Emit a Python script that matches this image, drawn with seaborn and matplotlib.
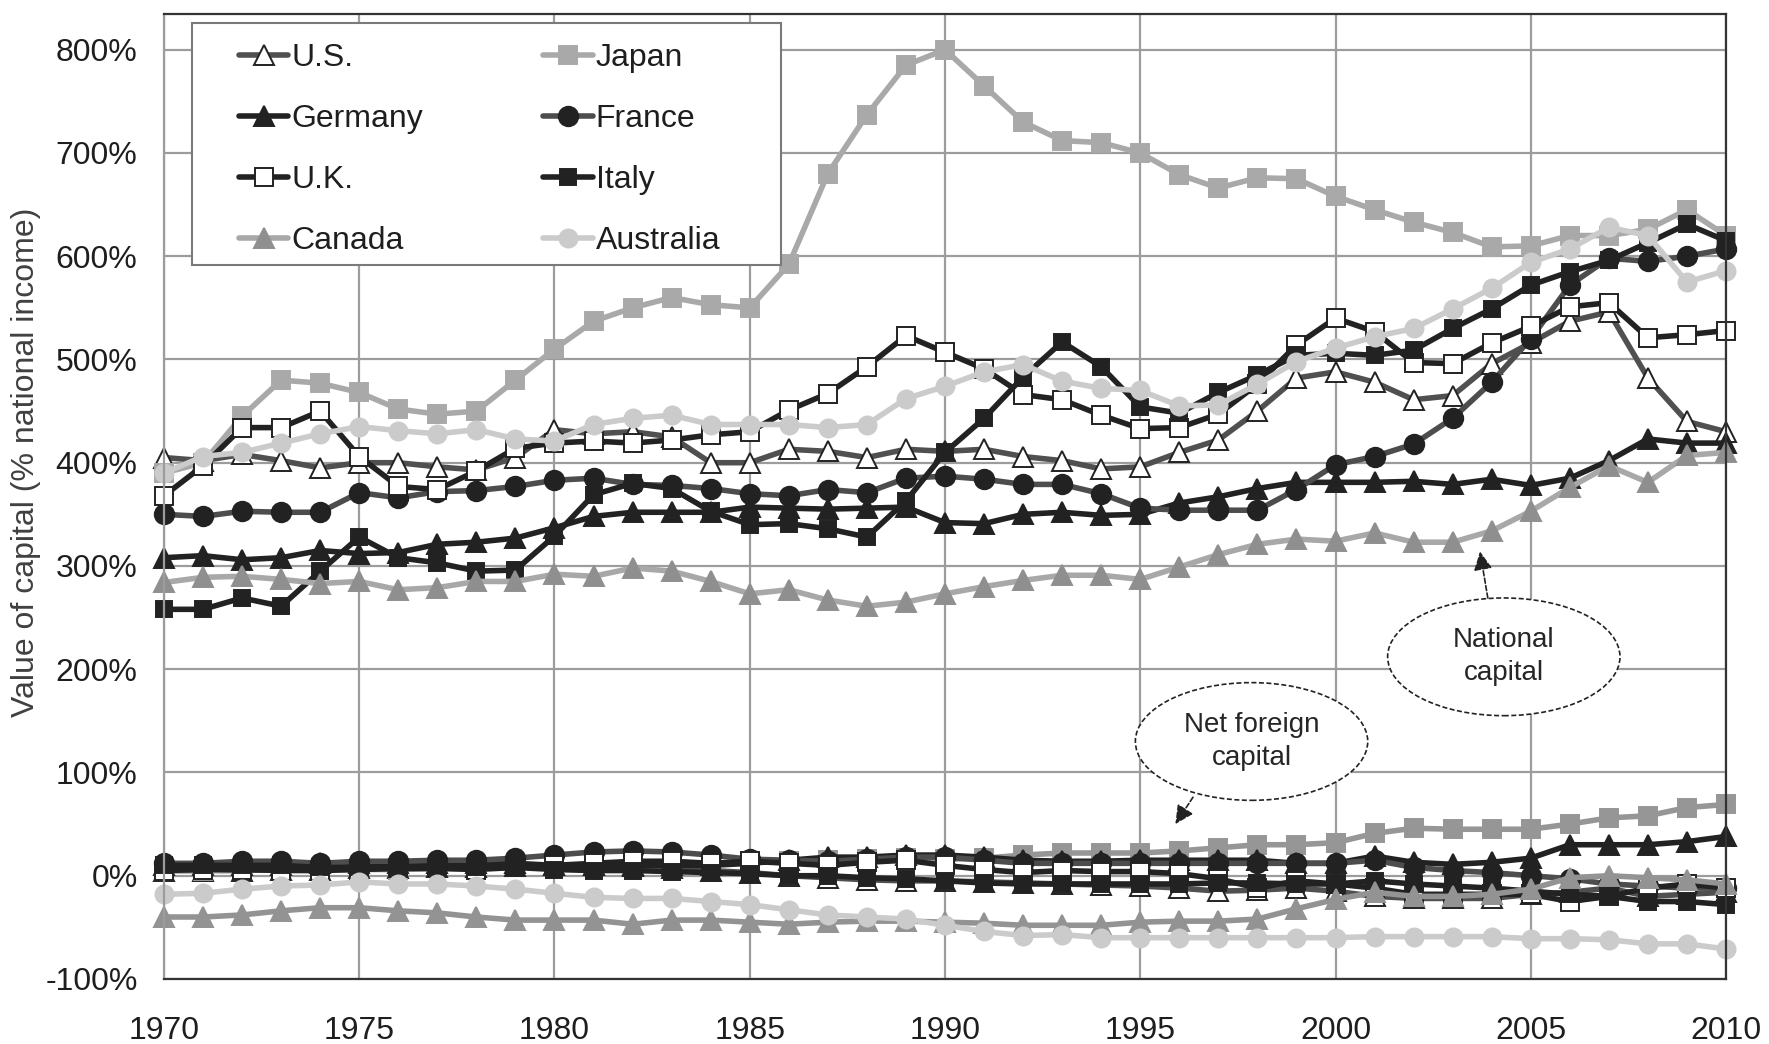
import matplotlib
matplotlib.use("Agg")
import matplotlib.pyplot as plt
import seaborn as sns
import pandas as pd
from matplotlib.patches import Ellipse, Rectangle

# ---------------- data ----------------
years = list(range(1970, 2011))
countries = ["U.S.", "Japan", "Germany", "France", "U.K.", "Italy", "Canada", "Australia"]

us_national = [405, 402, 408, 402, 395, 400, 400, 396, 393, 405, 432, 428, 430, 425, 400, 400, 413, 411, 405, 413,
               411, 413, 406, 402, 394, 396, 410, 422, 450, 482, 488, 478, 461, 465, 496, 516, 537, 546, 482, 440, 430]
japan_national = [390, 400, 445, 480, 477, 468, 452, 447, 450, 480, 510, 537, 550, 560, 553, 550, 592, 680, 737, 785,
                  800, 765, 730, 712, 710, 700, 679, 666, 676, 675, 658, 645, 633, 623, 609, 610, 620, 620, 626, 645, 620]
germany_national = [308, 310, 306, 308, 315, 312, 313, 321, 323, 327, 337, 348, 352, 352, 352, 357, 356, 355, 356, 357,
                    342, 341, 350, 352, 349, 350, 361, 367, 375, 381, 381, 381, 382, 379, 384, 378, 385, 402, 423, 419, 419]
france_national = [350, 348, 353, 352, 352, 371, 366, 372, 373, 377, 383, 385, 379, 378, 375, 370, 368, 374, 371, 385,
                   387, 384, 379, 379, 370, 356, 354, 354, 354, 374, 398, 406, 418, 443, 478, 520, 572, 598, 595, 600, 607]
uk_national = [368, 397, 434, 434, 450, 406, 377, 374, 392, 414, 419, 421, 419, 422, 427, 430, 451, 467, 493, 523,
               507, 491, 466, 461, 446, 433, 434, 447, 476, 514, 540, 527, 497, 496, 516, 532, 551, 555, 521, 524, 528]
italy_national = [258, 258, 269, 261, 295, 328, 308, 303, 295, 296, 329, 369, 380, 375, 353, 340, 341, 336, 328, 363,
                  410, 443, 483, 517, 493, 454, 448, 468, 485, 504, 506, 504, 509, 530, 549, 572, 585, 596, 613, 631, 615]
canada_national = [284, 289, 290, 287, 283, 285, 277, 279, 285, 285, 292, 290, 298, 295, 285, 273, 277, 267, 261, 265,
                   273, 280, 286, 291, 291, 287, 299, 311, 321, 326, 324, 332, 323, 323, 334, 353, 376, 397, 381, 407, 410]
australia_national = [390, 406, 410, 419, 428, 435, 431, 428, 432, 423, 421, 437, 443, 446, 437, 437, 437, 434, 437, 462,
                      474, 488, 495, 479, 472, 470, 455, 456, 476, 498, 511, 522, 530, 549, 569, 594, 607, 628, 620, 575, 586]

us_foreign = [5, 5, 5, 6, 6, 7, 7, 8, 8, 9, 10, 10, 9, 7, 5, 3, 0, -2, -4, -5,
              -5, -6, -7, -8, -9, -10, -12, -15, -14, -12, -15, -20, -22, -22, -22, -18, -16, -12, -20, -18, -16]
japan_foreign = [5, 5, 6, 6, 6, 6, 6, 7, 8, 8, 8, 8, 9, 10, 12, 13, 14, 15, 16, 17,
                 16, 17, 20, 22, 22, 22, 24, 27, 30, 30, 32, 41, 46, 45, 45, 45, 50, 56, 58, 66, 69]
germany_foreign = [10, 10, 10, 10, 12, 12, 12, 12, 12, 12, 10, 10, 10, 10, 10, 12, 15, 18, 18, 20,
                   20, 18, 15, 14, 14, 15, 15, 15, 15, 12, 12, 19, 13, 11, 13, 17, 30, 30, 30, 33, 38]
france_foreign = [12, 12, 14, 14, 12, 14, 14, 15, 15, 17, 20, 23, 24, 23, 20, 16, 15, 14, 16, 18,
                  18, 15, 12, 12, 12, 12, 12, 12, 12, 12, 12, 15, 8, 5, 3, 0, -3, -8, -10, -12, -12]
uk_foreign = [5, 6, 6, 5, 5, 6, 7, 7, 6, 8, 10, 12, 14, 14, 12, 14, 12, 10, 13, 15,
              10, 6, 3, 5, 4, 4, 2, -3, -12, -5, -8, -12, -18, -18, -18, -18, -25, -20, -12, -8, -12]
italy_foreign = [10, 10, 10, 10, 8, 8, 8, 8, 8, 8, 6, 5, 5, 4, 3, 2, 0, 0, -2, -3,
                 -5, -7, -8, -8, -8, -8, -8, -7, -7, -8, -8, -5, -8, -10, -12, -15, -18, -20, -25, -25, -28]
canada_foreign = [-40, -40, -38, -34, -31, -31, -34, -36, -40, -43, -43, -43, -47, -43, -43, -45, -47, -45, -44, -44,
                  -45, -46, -48, -48, -48, -45, -44, -44, -42, -32, -23, -16, -20, -20, -18, -13, -2, 0, -2, -4, -8]
australia_foreign = [-18, -17, -13, -10, -9, -6, -8, -8, -10, -13, -17, -21, -22, -22, -25, -28, -33, -38, -40, -42,
                     -48, -54, -58, -57, -60, -60, -60, -60, -60, -60, -60, -59, -59, -59, -59, -61, -61, -62, -66, -66, -71]

national = [us_national, japan_national, germany_national, france_national,
            uk_national, italy_national, canada_national, australia_national]
foreign = [us_foreign, japan_foreign, germany_foreign, france_foreign,
           uk_foreign, italy_foreign, canada_foreign, australia_foreign]

x_ticks = [1970, 1975, 1980, 1985, 1990, 1995, 2000, 2005, 2010]
y_ticks = [-100, 0, 100, 200, 300, 400, 500, 600, 700, 800]
y_tick_labels = ["-100%", "0%", "100%", "200%", "300%", "400%", "500%", "600%", "700%", "800%"]
y_label = "Value of capital (% national income)"
note_national = "National\ncapital"
note_foreign = "Net foreign\ncapital"

rows = []
for c, nat, fo in zip(countries, national, foreign):
    for y, v in zip(years, nat):
        rows.append((c, "national", y, v))
    for y, v in zip(years, fo):
        rows.append((c, "foreign", y, v))
df = pd.DataFrame(rows, columns=["country", "kind", "year", "value"])

# ---------------- styles ----------------
DK = "#222222"
styles = {
    "U.S.":      dict(color="#505050", marker="^", mfc="white", mec=DK, ms=14),
    "Japan":     dict(color="#a9a9a9", marker="s", mfc="#a9a9a9", mec="#a9a9a9", ms=13),
    "Germany":   dict(color=DK, marker="^", mfc=DK, mec=DK, ms=14),
    "France":    dict(color="#4d4d4d", marker="o", mfc=DK, mec=DK, ms=14),
    "U.K.":      dict(color=DK, marker="s", mfc="white", mec=DK, ms=13),
    "Italy":     dict(color=DK, marker="s", mfc=DK, mec=DK, ms=12),
    "Canada":    dict(color="#a8a8a8", marker="^", mfc="#8f8f8f", mec="#8f8f8f", ms=14),
    "Australia": dict(color="#cbcbcb", marker="o", mfc="#cbcbcb", mec="#cbcbcb", ms=13),
}
foreign_color_override = {"Japan": "#969696", "Canada": "#939393"}

sns.set_style("white")
plt.rcParams["font.family"] = ["Liberation Sans", "DejaVu Sans"]

fig = plt.figure(figsize=(17.69, 10.44), dpi=100)
ax = fig.add_axes([0.0927, 0.0623, 0.883, 0.9247])

handles = {}
for kind in ["national", "foreign"]:
    for c in countries:
        st = dict(styles[c])
        if kind == "foreign" and c in foreign_color_override:
            col = foreign_color_override[c]
            st["color"] = col
            if st["mfc"] != "white":
                st["mfc"] = col
                st["mec"] = col
        sub = df[(df.country == c) & (df.kind == kind)]
        sns.lineplot(data=sub, x="year", y="value", ax=ax, errorbar=None, legend=False,
                     color=st["color"], linewidth=4.0, marker=st["marker"],
                     markersize=st["ms"], markerfacecolor=st["mfc"],
                     markeredgecolor=st["mec"], markeredgewidth=1.4, clip_on=False,
                     label=c if kind == "national" else "_nolegend_")
        if kind == "national":
            handles[c] = ax.lines[-1]

ax.set_xlim(1970, 2010)
ax.set_ylim(-100, 835)
ax.set_xticks(x_ticks)
ax.set_xticklabels([str(x) for x in x_ticks])
ax.set_yticks(y_ticks)
ax.set_yticklabels(y_tick_labels)
ax.tick_params(axis="x", length=0, pad=27, labelsize=23, labelcolor="#1e1e1e")
ax.tick_params(axis="y", length=0, pad=19, labelsize=23, labelcolor="#1e1e1e")
ax.grid(True, color="#9c9c9c", linewidth=1.6)
ax.set_axisbelow(True)
for s in ["top", "right", "bottom"]:
    ax.spines[s].set_color("#333333")
    ax.spines[s].set_linewidth(1.6)
ax.spines["left"].set_color("#9c9c9c")
ax.spines["left"].set_linewidth(1.6)
ax.set_xlabel("")
ax.set_ylabel(y_label, fontsize=23, color="#404040")
ax.yaxis.set_label_coords(-0.079, 0.535)

# legend frame + legend
frame = Rectangle((0.1085, 0.746), 0.333, 0.232, transform=fig.transFigure,
                  facecolor="white", edgecolor="#7a7a7a", linewidth=1.5, zorder=20)
fig.patches.append(frame)
order = ["U.S.", "Germany", "U.K.", "Canada", "Japan", "France", "Italy", "Australia"]
leg = fig.legend([handles[c] for c in order], order, ncol=2, loc="upper left",
                 bbox_to_anchor=(0.135, 0.959), bbox_transform=fig.transFigure,
                 frameon=False, fontsize=23, handlelength=1.55, handletextpad=0.1,
                 columnspacing=3.75, labelspacing=0.97, borderpad=0, borderaxespad=0)
leg.set_zorder(21)
for t in leg.get_texts():
    t.set_color("#1e1e1e")

# annotations
for (cx, cy), txt in [((2004.31, 212), note_national), ((1997.85, 130), note_foreign)]:
    e = Ellipse((cx, cy), 5.95, 114, facecolor="white", edgecolor="#222222",
                linestyle=(0, (3, 1.5)), linewidth=1.2, zorder=5)
    ax.add_patch(e)
    ax.text(cx, cy, txt, ha="center", va="center", fontsize=20, color="#262626",
            linespacing=1.35, zorder=6)

arrow_kw = dict(arrowstyle="-|>", color="#222222", lw=1.2, linestyle=(0, (3, 1.5)),
                mutation_scale=28, shrinkA=0, shrinkB=0)
ax.annotate("", xy=(2003.7, 314), xytext=(2003.9, 269), arrowprops=arrow_kw, zorder=6)
ax.annotate("", xy=(1995.9, 50), xytext=(1996.35, 76), arrowprops=arrow_kw, zorder=6)

fig.savefig("out.png", dpi=100)
